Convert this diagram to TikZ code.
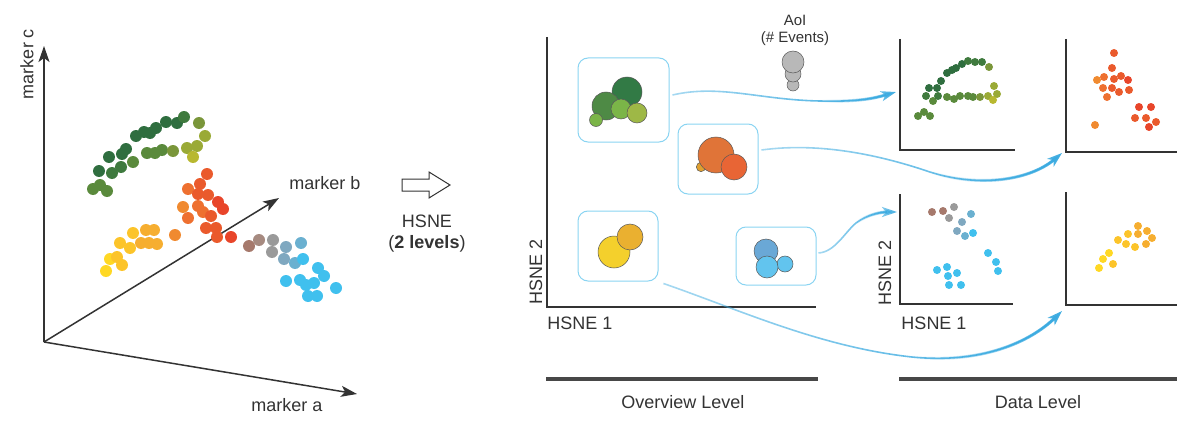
\documentclass[tikz,border=0pt]{standalone}
\usepackage{fontspec}
\setmainfont{Liberation Sans}
\usetikzlibrary{arrows.meta,fadings}
\definecolor{txt}{HTML}{333333}
\definecolor{axc}{HTML}{333333}
\definecolor{g1}{HTML}{2F6E3F}
\definecolor{g2}{HTML}{3F7A3E}
\definecolor{g3}{HTML}{5A8A3C}
\definecolor{g4}{HTML}{7A963A}
\definecolor{g5}{HTML}{9AAA36}
\definecolor{g6}{HTML}{B8B830}
\definecolor{o1}{HTML}{E8452A}
\definecolor{o2}{HTML}{EA5A2C}
\definecolor{o3}{HTML}{EE7030}
\definecolor{o4}{HTML}{F08A30}
\definecolor{y1}{HTML}{FFD824}
\definecolor{y2}{HTML}{FCC42A}
\definecolor{y3}{HTML}{F6AE30}
\definecolor{br1}{HTML}{A6796C}
\definecolor{br2}{HTML}{A68A80}
\definecolor{gr1}{HTML}{9A9A9A}
\definecolor{bl1}{HTML}{7FA8C0}
\definecolor{bl2}{HTML}{6AB0D0}
\definecolor{bl3}{HTML}{40C0EE}
\definecolor{conn}{HTML}{3AAAE0}
\definecolor{boxc}{HTML}{8AD4F2}
\definecolor{bdg}{HTML}{327A45}
\definecolor{bmg}{HTML}{4E8A45}
\definecolor{blg}{HTML}{7BB548}
\definecolor{bol}{HTML}{9EB846}
\definecolor{bor}{HTML}{E07438}
\definecolor{bred}{HTML}{E86535}
\definecolor{bam}{HTML}{E0A030}
\definecolor{bye}{HTML}{F4D02C}
\definecolor{byo}{HTML}{EAB030}
\definecolor{bbl}{HTML}{6AA8D6}
\definecolor{blb}{HTML}{62C4EE}
\definecolor{agr}{HTML}{B8B8B8}
\tikzfading[name=fadein, left color=transparent!100, right color=transparent!0]
\tikzfading[name=fadesoft, left color=transparent!55, right color=transparent!0]
\begin{document}
\begin{tikzpicture}[x=1pt,y=-1pt,
  lab/.style={font=\fontsize{18}{20}\selectfont, text=txt, inner sep=0pt},
  slab/.style={font=\fontsize{15}{17}\selectfont, text=txt, inner sep=0pt, align=center},
  axis3d/.style={draw=axc, line width=1.5pt, -{Stealth[length=16pt,width=11pt,inset=4pt]}},
  axisov/.style={draw=axc, line width=2.2pt},
  axisdl/.style={draw=axc, line width=2pt},
  bar/.style={draw=axc!90, line width=3.5pt},
  aoibox/.style={draw=boxc, line width=1pt, rounded corners=10pt, fill=white, inner sep=0pt},
  bub/.style={draw=black!65, line width=0.5pt},
  thinlink/.style={draw=conn, line width=1.6pt, path fading=fadesoft, shorten >=10pt},
  link/.style={draw=conn, line width=3pt, path fading=fadein, -{Stealth[length=15pt,width=10pt,inset=4pt]}},
  hollow/.style={draw=txt, line width=1pt, fill=white}
]
\useasboundingbox (0,0) rectangle (1200,428);

% ---------- left 3D panel ----------
\coordinate (O) at (44,342);
\coordinate (ca) at (357,394);
\coordinate (cb) at (279,198);
\coordinate (cc) at (44,46);
\draw[axis3d] (O) -- (ca);
\draw[axis3d] (O) -- (cb);
\draw[axis3d] (O) -- (cc);
\node[lab, rotate=90] (lc) at (27,64) {marker c};
\node[lab] (lb) at (325,183) {marker b};
\node[lab] (la) at (287,405) {marker a};

\foreach \x/\y/\c in {99/171/g1,109/157/g1,122/154/g1,126/149/g1,136/136/g1,144/132/g1,150/133/g1,156/128/g1,166/122/g1,177/123/g1,184/117/g2,199/123/g4,
  93/189/g3,100/185/g3,107/191/g3,112/173/g2,121/167/g2,133/162/g3,147/153/g3,155/153/g3,162/150/g3,173/151/g4,187/148/g5,197/146/g5,205/136/g5,193/157/g6,
  207/174/o2,200/184/o2,188/189/o3,198/194/o2,208/195/o2,218/202/o1,223/209/o1,183/207/o4,198/206/o3,203/212/o3,211/216/o2,188/218/o3,206/228/o2,216/228/o2,217/237/o2,231/237/o1,175/235/o4,
  133/233/y2,146/230/y3,154/230/y3,120/243/y2,130/248/y2,141/243/y3,149/243/y3,157/244/y3,110/259/y1,117/257/y2,122/265/y2,106/271/y1,
  249/246/br1,259/240/br2,273/240/gr1,272/252/gr1,286/247/bl1,301/243/bl2,284/259/bl1,295/263/bl2,303/259/bl3,318/268/bl3,324/276/bl3,286/281/bl3,300/280/bl3,306/285/bl3,314/283/bl3,336/288/bl3,308/296/bl3,317/296/bl3}
  \fill[\c] (\x,\y) circle[radius=6pt];

% ---------- hollow arrow ----------
\draw[hollow] (402,179) -- (429,179) -- (429,172) -- (450,185) -- (429,198) -- (429,191) -- (402,191) -- cycle;
\node[lab] (hs) at (427,221) {HSNE};
\node[lab] (hl) at (427,244) {(\textbf{2 levels})};

% ---------- overview level ----------
\draw[axisov] (547,37) -- (547,307) -- (816,307);
\node[lab, rotate=90] (ov2) at (536,272) {HSNE 2};
\node[lab] (ov1) at (580,323) {HSNE 1};

\node[aoibox, minimum width=91pt, minimum height=84pt] (box1) at (623.5,100) {};
\node[aoibox, minimum width=80pt, minimum height=70pt] (box2) at (718,159) {};
\node[aoibox, minimum width=80pt, minimum height=70pt] (box3) at (618,246) {};
\node[aoibox, minimum width=80pt, minimum height=58pt] (box4) at (776,256) {};

% bubbles box1
\fill[bdg, bub] (627,92) circle[radius=15pt];
\fill[bmg, bub] (606,106) circle[radius=14pt];
\fill[blg, bub] (621,109) circle[radius=10pt];
\fill[bol, bub] (637,113) circle[radius=10pt];
\fill[blg, bub] (596,120) circle[radius=6.5pt];
% box2
\fill[bam, bub] (701,167) circle[radius=4.7pt];
\fill[bor, bub] (716,155) circle[radius=18pt];
\fill[bred, bub] (734,167) circle[radius=13pt];
% box3
\fill[bye, bub] (614,252) circle[radius=16pt];
\fill[byo, bub] (630,237) circle[radius=13pt];
% box4
\fill[bbl, bub] (766,251) circle[radius=12pt];
\fill[blb, bub] (785,264) circle[radius=8pt];
\fill[blb, bub] (767,267) circle[radius=11pt];

% AoI legend
\node[slab] (aoi) at (795,30) {AoI\\(\# Events)};
\fill[agr, bub] (793,85) circle[radius=6pt];
\fill[agr, bub] (793,74) circle[radius=8pt];
\fill[agr, bub] (793,62) circle[radius=11pt];

% ---------- data level panels ----------
\draw[axisdl] (900,39) -- (900,150) -- (1015,150);
\draw[axisdl] (1066,39) -- (1066,152) -- (1177,152);
\draw[axisdl] (900,194) -- (900,304) -- (1013,304);
\draw[axisdl] (1066,192) -- (1066,305) -- (1177,305);
\node[lab, rotate=90] (dl2) at (885,273) {HSNE 2};
\node[lab] (dl1) at (934,323) {HSNE 1};

\foreach \x/\y/\c in {918/116/g3,924/112/g3,930/116/g3,926/96/g2,933/101/g3,938/96/g2,929/88/g1,937/88/g1,941/81/g1,947/73/g1,952/70/g1,956/68/g1,962/64/g1,968/61/g2,975/62/g2,982/62/g2,989/67/g4,
  947/97/g3,954/99/g3,960/96/g3,968/96/g3,973/97/g3,980/97/g4,988/96/g5,994/86/g5,997/94/g5,993/100/g6,
  1114/53/o2,1112/68/o2,1097/80/o4,1104/77/o3,1114/79/o2,1121/76/o2,1128/80/o1,1103/88/o3,1112/88/o2,1119/92/o2,1129/90/o2,1107/97/o3,1139/107/o1,1151/107/o1,1135/118/o2,1146/118/o2,1156/122/o2,1149/127/o1,1095/125/o4,
  932/212/br1,943/211/br1,954/207/gr1,949/218/gr1,962/222/bl1,971/214/bl2,957/231/bl1,965/236/bl2,973/233/bl3,988/253/bl3,996/262/bl3,998/271/bl3,937/270/bl3,947/267/bl3,948/276/bl3,957/273/bl3,949/285/bl3,961/285/bl3,
  1138/226/y3,1128/234/y2,1138/234/y3,1147/231/y3,1152/238/y3,1118/240/y2,1126/244/y2,1135/247/y2,1146/244/y3,1109/253/y1,1103/259/y1,1113/264/y2,1099/268/y1}
  \fill[\c] (\x,\y) circle[radius=4pt];

% ---------- connectors ----------
\coordinate (t1) at (896,92);
\coordinate (t2) at (1062,153);
\coordinate (t3) at (897,212);
\coordinate (t4) at (1062,311);
\coordinate (m1) at (820,101);
\coordinate (m2) at (930,172);
\coordinate (m3) at (856,223);
\coordinate (m4) at (912,357);
\draw[thinlink] ([xshift=3pt,yshift=5pt]box1.east) .. controls (720,84) and (760,100) .. (m1) .. controls (860,102) and (875,98) .. (t1);
\draw[link] (m1) .. controls (860,102) and (875,98) .. (t1);
\draw[thinlink] ([xshift=3pt,yshift=9pt]box2.east) .. controls (820,142) and (880,155) .. (m2) .. controls (980,188) and (1030,180) .. (t2);
\draw[link] (m2) .. controls (980,188) and (1030,180) .. (t2);
\draw[thinlink] ([xshift=2pt,yshift=3pt]box4.east) .. controls (835,252) and (845,232) .. (m3) .. controls (868,214) and (882,212) .. (t3);
\draw[link] (m3) .. controls (868,214) and (882,212) .. (t3);
\draw[thinlink] ([xshift=5pt,yshift=-2pt]box3.south east) .. controls (740,310) and (820,347) .. (m4) .. controls (982,364) and (1030,342) .. (t4);
\draw[link] (m4) .. controls (982,364) and (1030,342) .. (t4);

% ---------- level bars ----------
\draw[bar] (546,379) -- (818,379);
\draw[bar] (899,379) -- (1177,379);
\node[lab] (ovl) at (683,402) {Overview Level};
\node[lab] (dll) at (1038,402) {Data Level};
\end{tikzpicture}
\end{document}
